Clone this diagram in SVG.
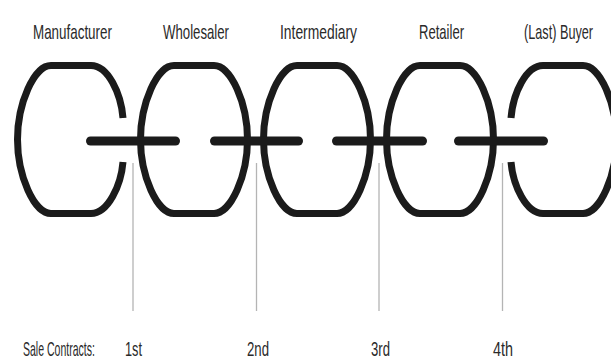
<svg xmlns="http://www.w3.org/2000/svg" width="611" height="360" viewBox="0 0 611 360">
<style>
.link{fill:none;stroke:#1b1b1b;stroke-width:7;stroke-linecap:butt;stroke-linejoin:round}
.bar{stroke:#1b1b1b;stroke-width:9;stroke-linecap:round}
.tick{stroke:#b4b4b4;stroke-width:1.3}
.lbl{font-family:"Liberation Sans",Arial,sans-serif;font-size:21px;fill:#2a2a2a}
</style>
<defs>
<path id="full" d="M -20,-74 L 20,-74 C 37,-74 53.5,-36 53.5,0 C 53.5,36 37,74 20,74 L -20,74 C -37,74 -53.5,36 -53.5,0 C -53.5,-36 -37,-74 -20,-74 Z"/>
</defs>
<rect width="611" height="360" fill="#ffffff"/>
<g id="manufacturer">
<path class="link" d="M 52,-21.5 C 50,-46 37,-74 20,-74 L -20,-74 C -37,-74 -53.5,-36 -53.5,0 C -53.5,36 -37,74 -20,74 L 20,74 C 37,74 50,46 52,22.5" transform="translate(71,139.5)"/>
<text class="lbl" transform="scale(0.62,1)" x="53.2" y="39" textLength="127.4" lengthAdjust="spacingAndGlyphs">Manufacturer</text>
</g>
<g id="wholesaler">
<use href="#full" class="link" transform="translate(194,139.5)"/>
<text class="lbl" transform="scale(0.62,1)" x="262.9" y="39" textLength="106.5" lengthAdjust="spacingAndGlyphs">Wholesaler</text>
</g>
<g id="intermediary">
<use href="#full" class="link" transform="translate(317,139.5)"/>
<text class="lbl" transform="scale(0.62,1)" x="451.6" y="39" textLength="124.2" lengthAdjust="spacingAndGlyphs">Intermediary</text>
</g>
<g id="retailer">
<use href="#full" class="link" transform="translate(440,139.5)"/>
<text class="lbl" transform="scale(0.62,1)" x="675.8" y="39" textLength="72.6" lengthAdjust="spacingAndGlyphs">Retailer</text>
</g>
<g id="buyer">
<path class="link" d="M -52,-21.5 C -50,-46 -37,-74 -20,-74 L 20,-74 C 37,-74 53.5,-36 53.5,0 C 53.5,36 37,74 20,74 L -20,74 C -37,74 -50,46 -52,22.5" transform="translate(563,139.5)"/>
<text class="lbl" transform="scale(0.62,1)" x="845.2" y="39" textLength="111.3" lengthAdjust="spacingAndGlyphs">(Last) Buyer</text>
</g>
<g id="connectors">
<line class="bar" x1="90.5" y1="141" x2="175.5" y2="141"/>
<line class="bar" x1="214.5" y1="141" x2="298.5" y2="141"/>
<line class="bar" x1="336.5" y1="141" x2="422.5" y2="141"/>
<line class="bar" x1="458.5" y1="141" x2="543.5" y2="141"/>
</g>
<g id="contracts">
<line class="tick" x1="133" y1="163" x2="133" y2="311"/>
<line class="tick" x1="256.5" y1="163" x2="256.5" y2="311"/>
<line class="tick" x1="379" y1="163" x2="379" y2="311"/>
<line class="tick" x1="502.5" y1="163" x2="502.5" y2="311"/>
<text class="lbl" transform="scale(0.62,1)" x="37.1" y="356" textLength="116.1" lengthAdjust="spacingAndGlyphs">Sale Contracts:</text>
<text class="lbl" transform="scale(0.62,1)" x="201.6" y="356" textLength="27.4" lengthAdjust="spacingAndGlyphs">1st</text>
<text class="lbl" transform="scale(0.62,1)" x="398.4" y="356" textLength="35.5" lengthAdjust="spacingAndGlyphs">2nd</text>
<text class="lbl" transform="scale(0.62,1)" x="598.4" y="356" textLength="30.6" lengthAdjust="spacingAndGlyphs">3rd</text>
<text class="lbl" transform="scale(0.62,1)" x="795.2" y="356" textLength="32.3" lengthAdjust="spacingAndGlyphs">4th</text>
</g>
</svg>
